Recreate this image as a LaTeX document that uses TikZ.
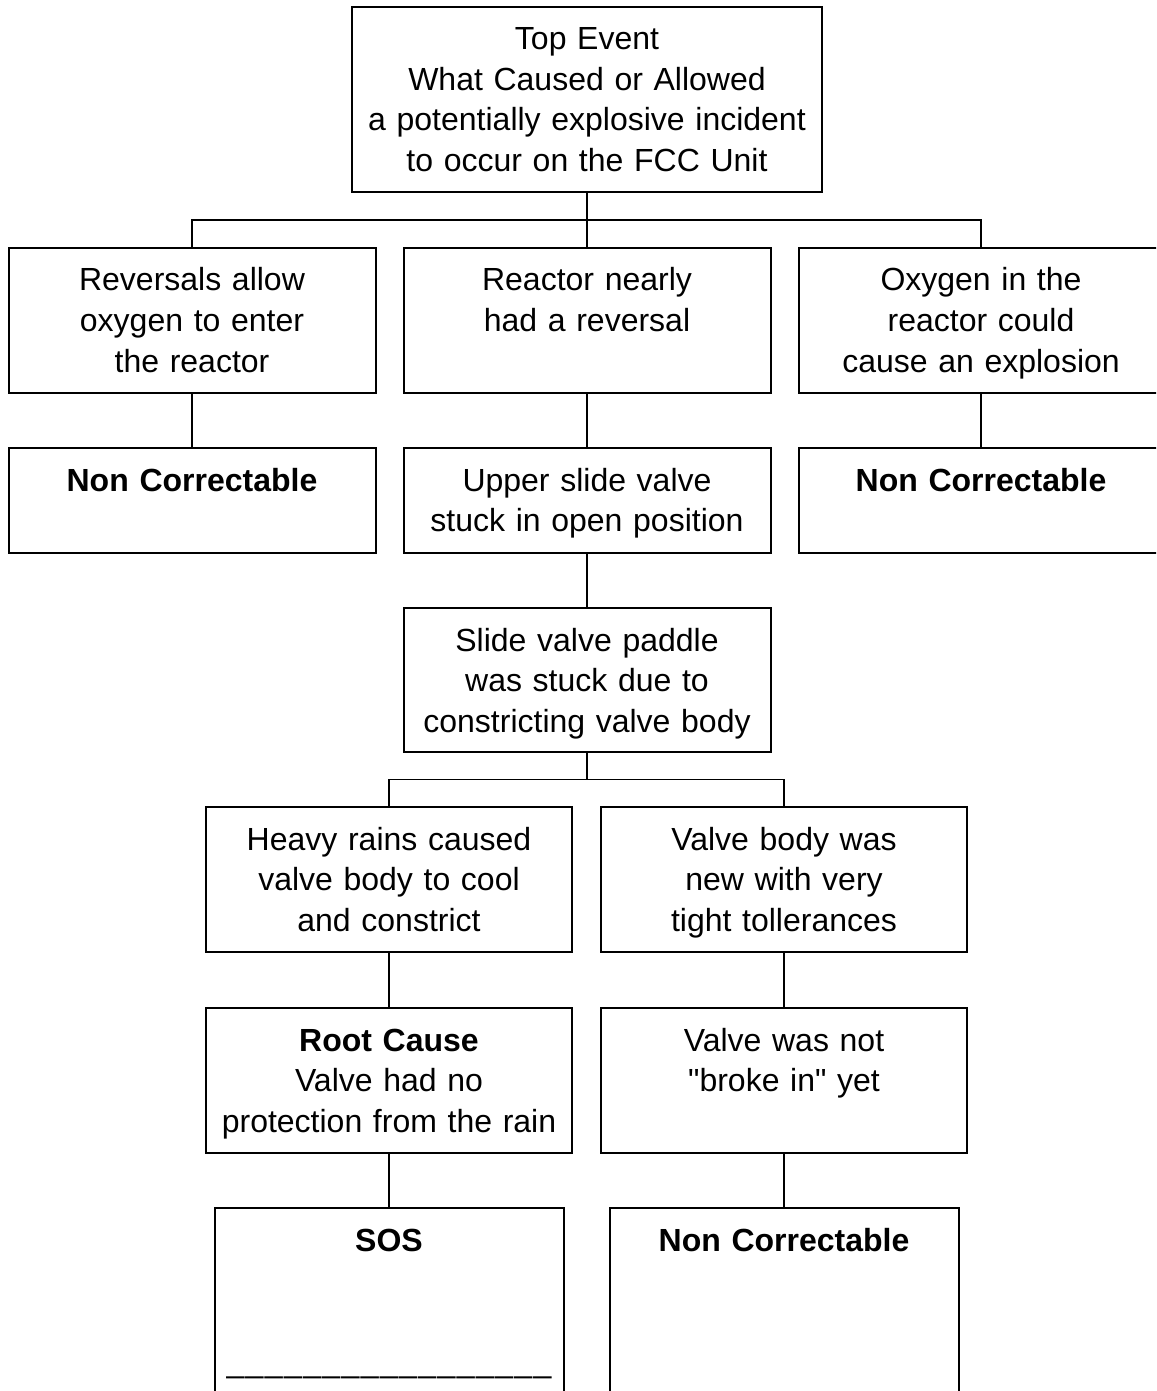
\documentclass[tikz,border=0pt]{standalone}
\usepackage{fontspec}
\setmainfont{Liberation Sans}[Ligatures=TeXOff]
\usetikzlibrary{calc,positioning}

\tikzset{
  treebox/.style 2 args={draw, line width=1pt, inner sep=0pt, outer sep=0pt,
    anchor=north, align=center, text width=#1, text height=21.5pt, text depth=#2,
    font=\fontsize{16}{20.25}\selectfont},
  link/.style={line width=0.85pt}
}

\begin{document}
\begin{tikzpicture}[x=0.5pt, y=-0.5pt]
  % Page frame
  \clip[use as bounding box] (0,0) rectangle (1156,1391);

  % Top event
  \node[treebox={235pt}{71pt}] (top) at (587,7)
    {Top Event\\What Caused or Allowed\\a potentially explosive incident\\to occur on the FCC Unit};

  % First branch
  \node[treebox={183.5pt}{51pt}] (reversal) at (192,248) {Reversals allow\\oxygen to enter\\the reactor};
  \node[treebox={183.5pt}{51pt}] (nearly) at (587,248) {Reactor nearly\\had a reversal};
  \node[treebox={182pt}{51pt}] (oxygen) at (981,248) {Oxygen in the\\reactor could\\cause an explosion};

  \node[treebox={183.5pt}{31pt}] (noncorrL) at (192,448) {\textbf{Non Correctable}};
  \node[treebox={183.5pt}{31pt}] (upper) at (587,448) {Upper slide valve\\stuck in open position};
  \node[treebox={182pt}{31pt}] (noncorrR) at (981,448) {\textbf{Non Correctable}};

  % Paddle
  \node[treebox={183.5pt}{50.5pt}] (paddle) at (587,608) {Slide valve paddle\\was stuck due to\\constricting valve body};

  % Second branch
  \node[treebox={183pt}{51pt}] (rain) at (389,807) {Heavy rains caused\\valve body to cool\\and constrict};
  \node[treebox={183pt}{51pt}] (tight) at (784,807) {Valve body was\\new with very\\tight tollerances};

  \node[treebox={183pt}{51pt}] (root) at (389,1008) {\textbf{Root Cause}\\Valve had no\\protection from the rain};
  \node[treebox={183pt}{51pt}] (broke) at (784,1008) {Valve was not\\"broke in" yet};

  % Bottom boxes (run off the page)
  \node[treebox={174.5pt}{128.5pt}] (sos) at (389,1208)
    {\textbf{SOS}\\[0pt]~\\~\\\_\kern0.7pt\_\kern0.7pt\_\kern0.7pt\_\kern0.7pt\_\kern0.7pt\_\kern0.7pt\_\kern0.7pt\_\kern0.7pt\_\kern0.7pt\_\kern0.7pt\_\kern0.7pt\_\kern0.7pt\_\kern0.7pt\_\kern0.7pt\_\kern0.7pt\_\kern0.7pt\_};
  \node[treebox={174.5pt}{128.5pt}] (noncorrB) at (784,1208) {\textbf{Non Correctable}};

  % Connectors
  \coordinate (barA) at ($(top.south)!.5!(nearly.north)$);
  \draw[link] (top.south) -- (nearly.north);
  \draw[link] (reversal.north) |- (barA) -| (oxygen.north);
  \draw[link] (reversal.south) -- (noncorrL.north);
  \draw[link] (nearly.south) -- (upper.north);
  \draw[link] (oxygen.south) -- (noncorrR.north);
  \draw[link] (upper.south) -- (paddle.north);

  \coordinate (barB) at ($(paddle.south)!.5!(paddle.south |- rain.north)$);
  \draw[link] (paddle.south) -- (barB);
  \draw[link] (rain.north) |- (barB) -| (tight.north);
  \draw[link] (rain.south) -- (root.north);
  \draw[link] (tight.south) -- (broke.north);
  \draw[link] (root.south) -- (sos.north);
  \draw[link] (broke.south) -- (noncorrB.north);
\end{tikzpicture}
\end{document}
